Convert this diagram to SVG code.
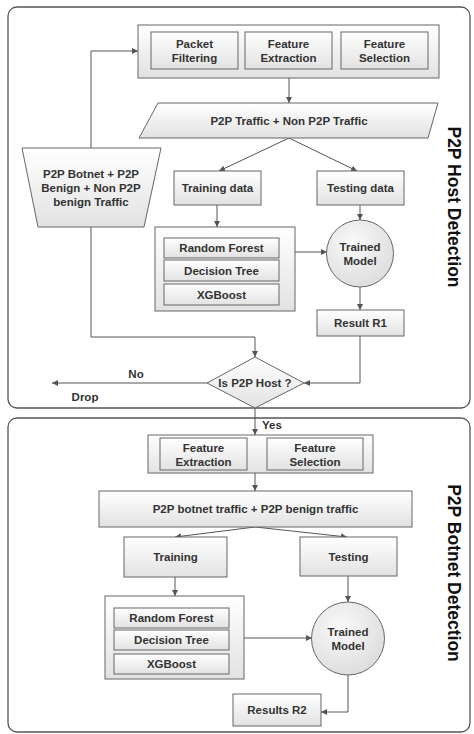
<svg xmlns="http://www.w3.org/2000/svg" width="474" height="734" viewBox="0 0 474 734">
<defs>
<linearGradient id="g" x1="0" y1="0" x2="0" y2="1"><stop offset="0" stop-color="#ffffff"/><stop offset="1" stop-color="#e2e2e2"/></linearGradient>
<radialGradient id="rg" cx="0.4" cy="0.35" r="0.7"><stop offset="0" stop-color="#fafafa"/><stop offset="1" stop-color="#dcdcdc"/></radialGradient>
<marker id="ah" viewBox="0 0 10 10" refX="10" refY="5" markerWidth="6" markerHeight="6" markerUnits="userSpaceOnUse" orient="auto"><path d="M0,0 L10,5 L0,10 z" fill="#555"/></marker>
</defs>
<style>
.panel{fill:#fff;stroke:#555;stroke-width:1.3}
.box{fill:url(#g);stroke:#666;stroke-width:1}
.circ{fill:url(#rg);stroke:#666;stroke-width:1}
.t{font-family:"Liberation Sans",Arial,sans-serif;font-weight:bold;font-size:11.5px;fill:#333;text-anchor:middle;dominant-baseline:central}
.big{font-family:"Liberation Sans",Arial,sans-serif;font-weight:bold;font-size:17.5px;fill:#111;text-anchor:middle;dominant-baseline:central}
.c{fill:none;stroke:#555;stroke-width:1;marker-end:url(#ah)}
.l{fill:none;stroke:#555;stroke-width:1}
</style>
<rect class="panel" x="8" y="7" width="462" height="401" rx="9"/>
<rect class="panel" x="8" y="418" width="462" height="314" rx="9"/>
<text class="big" transform="translate(454,207) rotate(90)">P2P Host Detection</text>
<text class="big" transform="translate(454,573) rotate(90)">P2P Botnet Detection</text>

<g id="connectors">
<path class="c" d="M91,148 V51 H138"/>
<path class="c" d="M289,78 V103"/>
<path class="c" d="M289,138 L219,171"/>
<path class="c" d="M289,138 L357,171"/>
<path class="c" d="M217,205 V227"/>
<path class="c" d="M360,205 V220"/>
<path class="c" d="M295,252 H327"/>
<path class="c" d="M360,287 V310"/>
<path class="c" d="M91,227 V337 H255 V357"/>
<path class="c" d="M360,336 V383 H304"/>
<path class="c" d="M207,383 H52"/>
<path class="c" d="M255,408 V435"/>
<path class="c" d="M255,473 V491"/>
<path class="c" d="M255,527 L175,537"/>
<path class="c" d="M255,527 L347,537"/>
<path class="c" d="M175,577 V596"/>
<path class="c" d="M348,576 V602"/>
<path class="c" d="M244,638 H312"/>
<path class="c" d="M348,675 V712 H321"/>
<text class="t" x="136" y="374">No</text>
<text class="t" x="85" y="397">Drop</text>
<text class="t" x="272" y="425">Yes</text>
</g>

<g id="preprocess1">
<rect class="box" x="138" y="25" width="301" height="53"/>
<rect class="box" x="151" y="32" width="87" height="37"/>
<text class="t" x="194.5" y="43.5">Packet</text><text class="t" x="194.5" y="57.5">Filtering</text>
<rect class="box" x="245" y="32" width="87" height="37"/>
<text class="t" x="288.5" y="43.5">Feature</text><text class="t" x="288.5" y="57.5">Extraction</text>
<rect class="box" x="341" y="32" width="87" height="37"/>
<text class="t" x="384.5" y="43.5">Feature</text><text class="t" x="384.5" y="57.5">Selection</text>
</g>

<g id="traffic1">
<polygon class="box" points="158,103 438,103 428,138 139,138"/>
<text class="t" x="289" y="120.5">P2P Traffic + Non P2P Traffic</text>
</g>

<g id="dataset">
<polygon class="box" points="22,148 161,148 144,227 38,227"/>
<text class="t" x="91" y="174">P2P Botnet + P2P</text>
<text class="t" x="91" y="188">Benign + Non P2P</text>
<text class="t" x="91" y="202">benign Traffic</text>
</g>

<g id="training1">
<rect class="box" x="174" y="171" width="87" height="34"/>
<text class="t" x="217.5" y="188">Training data</text>
</g>
<g id="testing1">
<rect class="box" x="317" y="171" width="87" height="34"/>
<text class="t" x="360.5" y="188">Testing data</text>
</g>

<g id="algos1">
<rect class="box" x="155" y="227" width="140" height="84"/>
<rect class="box" x="164" y="238" width="115" height="20"/>
<text class="t" x="221.5" y="248">Random Forest</text>
<rect class="box" x="164" y="260" width="115" height="21"/>
<text class="t" x="221.5" y="270.5">Decision Tree</text>
<rect class="box" x="164" y="284" width="115" height="21"/>
<text class="t" x="221.5" y="294.5">XGBoost</text>
</g>

<g id="model1">
<circle class="circ" cx="360" cy="253.5" r="33.5"/>
<text class="t" x="360" y="247">Trained</text>
<text class="t" x="360" y="261">Model</text>
</g>

<g id="result1">
<rect class="box" x="317" y="310" width="87" height="26"/>
<text class="t" x="360.5" y="323">Result R1</text>
</g>

<g id="decision">
<polygon class="box" points="255,357 304,383 255,408 207,383"/>
<text class="t" x="255" y="383">Is P2P Host ?</text>
</g>

<g id="preprocess2">
<rect class="box" x="148" y="435" width="225" height="38"/>
<rect class="box" x="160" y="438" width="87" height="32"/>
<text class="t" x="203.5" y="447.5">Feature</text><text class="t" x="203.5" y="461.5">Extraction</text>
<rect class="box" x="267" y="438" width="96" height="32"/>
<text class="t" x="315" y="447.5">Feature</text><text class="t" x="315" y="461.5">Selection</text>
</g>

<g id="traffic2">
<rect class="box" x="99" y="491" width="313" height="36"/>
<text class="t" x="255.5" y="509">P2P botnet traffic + P2P benign traffic</text>
</g>

<g id="training2">
<rect class="box" x="124" y="537" width="103" height="40"/>
<text class="t" x="175.5" y="557">Training</text>
</g>
<g id="testing2">
<rect class="box" x="300" y="537" width="97" height="39"/>
<text class="t" x="348.5" y="556.5">Testing</text>
</g>

<g id="algos2">
<rect class="box" x="105" y="596" width="139" height="83"/>
<rect class="box" x="114" y="608" width="115" height="20"/>
<text class="t" x="171.5" y="618">Random Forest</text>
<rect class="box" x="114" y="630" width="115" height="20"/>
<text class="t" x="171.5" y="640">Decision Tree</text>
<rect class="box" x="114" y="654" width="115" height="20"/>
<text class="t" x="171.5" y="664">XGBoost</text>
</g>

<g id="model2">
<circle class="circ" cx="348" cy="638.5" r="36.5"/>
<text class="t" x="348" y="632">Trained</text>
<text class="t" x="348" y="646">Model</text>
</g>

<g id="result2">
<rect class="box" x="233" y="694" width="88" height="32"/>
<text class="t" x="277" y="710">Results R2</text>
</g>
</svg>
